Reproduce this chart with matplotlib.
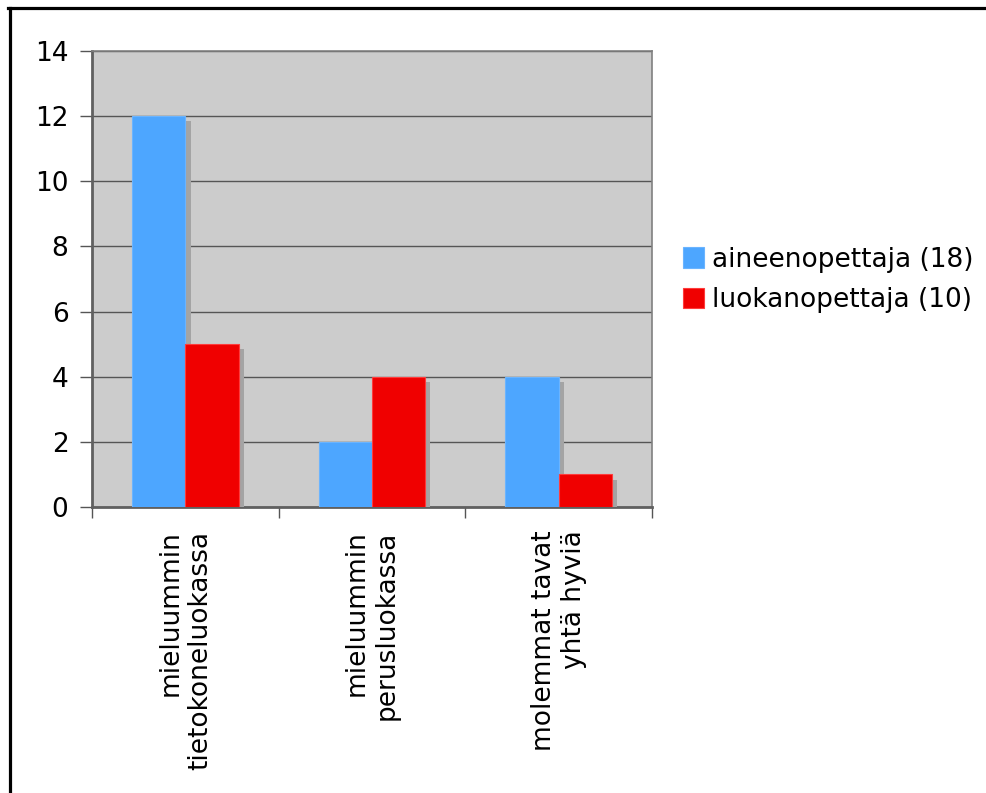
import matplotlib
matplotlib.use("Agg")
import matplotlib.pyplot as plt
import matplotlib.patheffects as pe
from matplotlib.lines import Line2D
from matplotlib.patches import Patch
import numpy as np

categories = ["mieluummin\ntietokoneluokassa",
              "mieluummin\nperusluokassa",
              "molemmat tavat\nyhtä hyviä"]
series_names = ["aineenopettaja (18)", "luokanopettaja (10)"]
aineenopettaja = [12, 2, 4]
luokanopettaja = [5, 4, 1]
y_ticks = [0, 2, 4, 6, 8, 10, 12, 14]

colors = ["#4da6ff", "#f00000"]
edge_colors = ["#6ab4ff", "#ff3b3b"]

FS = 19
plt.rcParams["font.family"] = ["DejaVu Sans"]
plt.rcParams["font.size"] = FS

fig = plt.figure(figsize=(9.86, 7.93), dpi=100)
ax = fig.add_axes([92 / 986, 1 - 507 / 793, 560 / 986, 456 / 793])
ax.set_facecolor("#cccccc")

x = np.arange(len(categories))
width = 0.285
shadow = [pe.SimplePatchShadow(offset=(3.8, -3.8), shadow_rgbFace="#a4a4a4", alpha=1.0),
          pe.Normal()]

for i, vals in enumerate([aineenopettaja, luokanopettaja]):
    offs = (i - 0.5) * width
    bars = ax.bar(x + offs, vals, width, color=colors[i], edgecolor=edge_colors[i],
                  linewidth=0.8, zorder=3)
    for b in bars:
        b.set_path_effects(shadow)

ax.set_xlim(-0.5, len(categories) - 0.5)
ax.set_ylim(0, 14)
ax.set_yticks(y_ticks)
ax.set_yticklabels([str(t) for t in y_ticks])
ax.yaxis.grid(True, color="#555555", linewidth=1.0, zorder=1)
ax.set_axisbelow(True)

# category boundaries carry the x ticks; labels sit at category centres
ax.set_xticks(np.arange(len(categories) + 1) - 0.5)
ax.set_xticklabels([])
ax.tick_params(axis="x", which="major", length=8, width=1, color="#555555", direction="out")
ax.set_xticks(x, minor=True)
ax.set_xticklabels(categories, minor=True, rotation=90, ha="center", va="top",
                   multialignment="right", linespacing=1.2)
ax.tick_params(axis="x", which="minor", length=0, pad=17)
ax.tick_params(axis="y", length=9, width=1, color="#555555", pad=8, direction="out")

for side in ["left", "bottom"]:
    ax.spines[side].set_color("#606060")
    ax.spines[side].set_linewidth(2.0)
for side in ["top", "right"]:
    ax.spines[side].set_color("#808080")
    ax.spines[side].set_linewidth(1.2)

handles = [Patch(facecolor=colors[i], edgecolor=edge_colors[i], linewidth=0.8)
           for i in range(len(series_names))]
fig.legend(handles, series_names, loc="center left", bbox_to_anchor=(683 / 986, 1 - 280 / 793),
           frameon=False, borderpad=0, borderaxespad=0, handlelength=0.8, handleheight=0.8,
           handletextpad=0.3, labelspacing=0.55, fontsize=FS)

# outer frame of the chart (top and left edges)
fig.add_artist(Line2D([8 / 986, 1], [1 - 7.5 / 793, 1 - 7.5 / 793], color="black",
                      linewidth=2.3, transform=fig.transFigure))
fig.add_artist(Line2D([9.5 / 986, 9.5 / 986], [0, 1 - 7.5 / 793], color="black",
                      linewidth=2.3, transform=fig.transFigure))

fig.savefig("out.png", dpi=100)
